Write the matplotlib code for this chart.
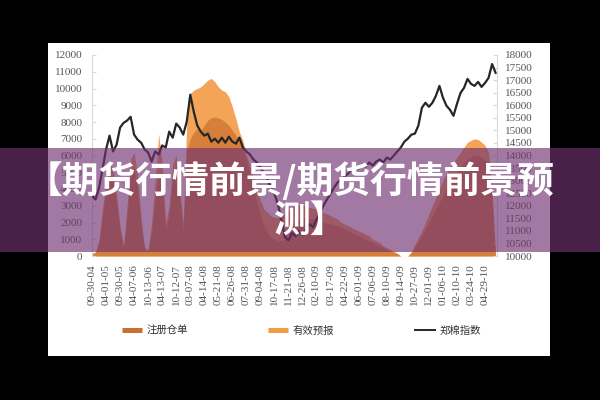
import matplotlib
matplotlib.use("Agg")
import matplotlib.pyplot as plt
from matplotlib.patches import Rectangle
from matplotlib.lines import Line2D
import numpy as np

tick_labels = ["09-30-04", "04-01-05", "09-30-05", "04-07-06", "10-13-06", "04-13-07",
               "10-12-07", "03-07-08", "04-14-08", "05-21-08", "06-26-08", "07-31-08",
               "09-04-08", "10-17-08", "11-21-08", "12-26-08", "02-10-09", "03-17-09",
               "04-22-09", "06-01-09", "07-06-09", "08-10-09", "09-14-09", "10-27-09",
               "12-01-09", "01-06-10", "02-10-10", "03-24-10", "04-29-10"]

# 郑棉指数 (right axis)
index_values = [12400, 12250, 12700, 13450, 14240, 14790, 14160, 14430, 15110, 15300,
                15390, 15540, 14830, 14630, 14510, 14240, 14120, 13760, 14160, 14040,
                14400, 14320, 14950, 14710, 15270, 15110, 14830, 15350, 16420, 15740,
                15190, 14950, 14790, 14870, 14550, 14670, 14510, 14710, 14510, 14750,
                14550, 14470, 14710, 14320, 14160, 14040, 13840, 13720, 13520, 13290,
                13050, 12730, 12460, 12060, 11390, 10750, 10630, 10910, 10790, 10990,
                10830, 11070, 11270, 11150, 11470, 11700, 12020, 12260, 12490, 12730,
                12930, 13050, 13170, 13290, 13450, 13560, 13480, 13640, 13560, 13720,
                13600, 13760, 13840, 13720, 13920, 13840, 14000, 14160, 14320, 14550,
                14670, 14830, 14870, 15190, 15900, 16100, 15940, 16100, 16380, 16770,
                16300, 15980, 15820, 15580, 16060, 16490, 16690, 17050, 16850, 16770,
                16930, 16730, 16890, 17090, 17640, 17290]

# 有效预报 (left axis)
forecast_values = [150, 250, 1000, 2800, 4500, 5500, 5200, 3600, 1800, 600,
                   3000, 5800, 6200, 4800, 2200, 500, 400, 2000, 4500, 7300,
                   5500, 2000, 3000, 5500, 6000, 4000, 2000, 8000, 9700, 9900,
                   10000, 10100, 10300, 10500, 10600, 10400, 10100, 9900, 9800, 9500,
                   8900, 8200, 7400, 6900, 6000, 5400, 4800, 4000, 3300, 2800,
                   2600, 2400, 2300, 2300, 2400, 2500, 2700, 2900, 3000, 3050,
                   3000, 2950, 2900, 2850, 2800, 2700, 2600, 2500, 2400, 2300,
                   2200, 2000, 1900, 1800, 1700, 1600, 1500, 1400, 1300, 1200,
                   1000, 900, 800, 600, 500, 400, 300, 150, 0, 0,
                   0, 250, 700, 1100, 1500, 2000, 2500, 3000, 3500, 4000,
                   4500, 4900, 5300, 5600, 5900, 6200, 6500, 6800, 6900, 7000,
                   6950, 6800, 6600, 6200, 4000, 0]

# 注册仓单 (left axis)
receipt_values = [150, 200, 800, 2500, 4000, 4900, 4600, 3200, 1500, 500,
                  2500, 5000, 5200, 4000, 1800, 400, 300, 1500, 3500, 5000,
                  4200, 1500, 2500, 4800, 5400, 3500, 1500, 6300, 7000, 7400,
                  7600, 7500, 7800, 8100, 8250, 8300, 8250, 8150, 8000, 7800,
                  7500, 7200, 6900, 6400, 5700, 4900, 4000, 3200, 2400, 1800,
                  1400, 1100, 1000, 900, 900, 1000, 1300, 1700, 2000, 2200,
                  2300, 2300, 2250, 2200, 2200, 2100, 2000, 1950, 1900, 1850,
                  1800, 1700, 1600, 1500, 1400, 1300, 1200, 1100, 1000, 900,
                  800, 700, 600, 500, 400, 300, 200, 150, 0, 0,
                  0, 200, 550, 850, 1200, 1600, 2000, 2400, 2800, 3200,
                  3600, 4000, 4400, 4700, 5000, 5300, 5600, 5800, 5900, 6000,
                  6000, 5900, 5700, 5400, 3500, 0]

light_color = "#F39A45"
dark_color = "#C8702E"

fig = plt.figure(figsize=(6, 4), dpi=100, facecolor="black")
fig.add_artist(Rectangle((48 / 600, 1 - 356 / 400), 502 / 600, 313 / 400,
                         transform=fig.transFigure, facecolor="white",
                         edgecolor="none", zorder=-5))

ax = fig.add_axes([92 / 600, 1 - 256 / 400, 405 / 600, 201 / 400])
ax.set_facecolor("none")
x = np.arange(len(index_values))
ax.fill_between(x, forecast_values, color=light_color, lw=0, alpha=0.9)
ax.fill_between(x, receipt_values, color=dark_color, lw=0, alpha=0.7)
ax.set_xlim(0, 115.4)
ax.set_ylim(0, 12000)
ax.set_yticks(range(0, 12001, 1000))
ax.set_xticks(range(0, 4 * len(tick_labels), 4))
ax.set_xticklabels(tick_labels, rotation=90)
for lab in ax.get_xticklabels() + ax.get_yticklabels():
    lab.set_fontfamily("Liberation Serif")
    lab.set_fontsize(8)
    lab.set_color("#555555")
ax.tick_params(axis="x", length=0, pad=6)
ax.tick_params(axis="y", length=3, direction="in", color="#D9D9D9", pad=7)
for s in ["top", "bottom", "right"]:
    ax.spines[s].set_visible(False)
ax.spines["left"].set_color("#D9D9D9")

ax2 = ax.twinx()
ax2.plot(x, index_values, color="#262626", lw=1.6)
ax2.set_ylim(10000, 18000)
ax2.set_yticks(range(10000, 18001, 500))
for lab in ax2.get_yticklabels():
    lab.set_fontfamily("Liberation Serif")
    lab.set_fontsize(8)
    lab.set_color("#555555")
ax2.tick_params(axis="y", length=3, direction="in", color="#D9D9D9", pad=6)
for s in ["top", "bottom", "left"]:
    ax2.spines[s].set_visible(False)
ax2.spines["right"].set_color("#D9D9D9")

cjk = ["Noto Sans CJK SC", "DejaVu Sans"]
leg_items = [
    (Line2D([], [], color=dark_color, lw=3.6, solid_capstyle="butt"), "注册仓单", 122),
    (Line2D([], [], color=light_color, lw=3.6, solid_capstyle="butt"), "有效预报", 268),
    (Line2D([], [], color="#262626", lw=1.4), "郑棉指数", 415),
]
for h, lab, px in leg_items:
    fig.legend(handles=[h], labels=[lab], loc="center left",
               bbox_to_anchor=(px / 600, 1 - 331 / 400), frameon=False,
               prop={"family": cjk, "size": 7.5}, handlelength=1.9,
               handletextpad=0.5, borderpad=0, borderaxespad=0,
               labelcolor="#333333")

# banner overlay
fig.add_artist(Rectangle((0, 1 - 252 / 400), 1, 104 / 400, transform=fig.transFigure,
                         facecolor="#703270", alpha=0.65, edgecolor="none", zorder=10))
fig.text(0.483, 1 - 182 / 400, "【期货行情前景/期货行情前景预", ha="center", va="center",
         color="white", fontsize=26.5, fontweight="heavy", family=cjk, zorder=11)
fig.text(0.518, 1 - 221 / 400, "测】", ha="center", va="center",
         color="white", fontsize=26.5, fontweight="heavy", family=cjk, zorder=11)

fig.savefig("out.png", dpi=100, facecolor="black")
